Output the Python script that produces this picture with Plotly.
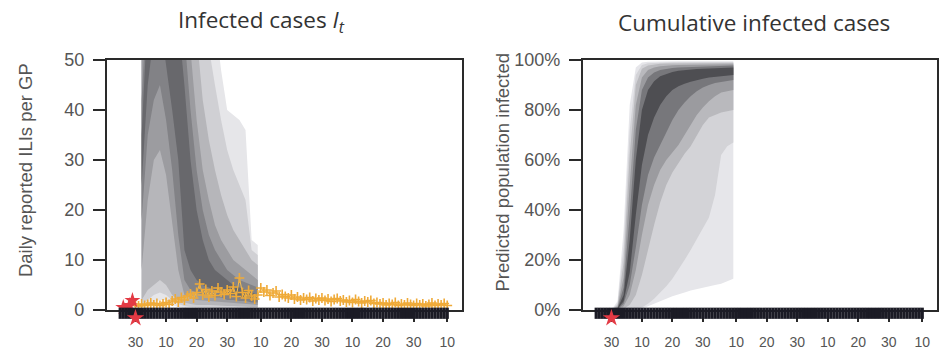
import pandas as pd
import plotly.graph_objects as go

START = pd.Timestamp("2009-04-30")

# ---------------- observed daily ILIs per GP ----------------
pre_days = [-4, -2, -1]            # data before the forecast origin
pre_ili = [0.5, 0.9, 1.9]

obs_ili = [                        # daily from 30 Apr to 10 Aug
    1.0, 0.8, 1.2, 0.9, 1.1, 1.4, 1.0, 1.3, 0.9, 1.2,
    1.5, 1.1, 1.8, 2.2, 1.6, 2.5, 2.0, 2.8, 3.2, 2.4,
    3.5, 5.2, 3.0, 4.1, 2.6, 3.8, 2.9, 4.4, 3.6, 3.1,
    4.0, 3.3, 4.6, 2.7, 6.4, 3.5, 2.4, 3.9, 2.8, 2.2,
    3.0, 4.4, 3.6, 4.0, 2.9, 3.4, 3.8, 2.6, 3.1, 2.7,
    2.4, 3.0, 2.2, 2.6, 2.0, 2.4, 2.1, 2.5, 1.8, 2.3,
    2.0, 2.4, 1.9, 2.2, 1.7, 2.1, 2.3, 1.8, 2.0, 1.6,
    1.9, 1.5, 2.1, 1.7, 1.4, 1.8, 1.6, 1.9, 1.3, 1.5,
    1.2, 1.4, 1.0, 1.3, 1.1, 1.5, 0.9, 1.2, 1.0, 1.4,
    1.1, 0.9, 1.3, 1.0, 1.2, 0.8, 1.1, 1.4, 0.9, 1.2,
    1.0, 1.3, 0.9,
]
rug_first_day = -5                 # reporting days shown as a rug

# ---------------- forecast fan: daily infected cases ----------------
inc_days = [2, 4, 6, 8, 10, 12, 14, 16, 18, 20, 22, 24, 26, 28, 30, 32, 34, 36, 38, 40]
inc_q975 = [90, 150, 180, 190, 190, 180, 170, 150, 120, 95, 75, 65, 58, 48, 40, 39, 38, 36, 14, 13]
inc_q950 = [75, 130, 160, 170, 170, 160, 150, 130, 100, 75, 60, 52, 45, 38, 32, 28, 25, 22, 12, 11]
inc_q900 = [60, 110, 140, 150, 150, 140, 120, 100, 75, 55, 42, 34, 28, 23, 19, 16, 14, 12, 10, 9]
inc_q800 = [50, 90, 120, 130, 125, 110, 90, 70, 52, 38, 28, 22, 17, 14, 12, 10, 9, 8, 7, 6]
inc_q700 = [42, 75, 100, 110, 100, 85, 70, 55, 40, 28, 20, 15, 12, 10, 8, 7, 6, 5.5, 5, 4.5]
inc_q600 = [35, 65, 85, 90, 80, 70, 58, 45, 30, 20, 14, 10, 8, 7, 6, 5, 4.5, 4, 3.5, 3]
inc_q400 = [25, 45, 55, 58, 50, 40, 30, 12, 8, 6, 5, 4.5, 4, 3.5, 3, 3, 2.5, 2.5, 2, 2]
inc_q300 = [18, 35, 42, 45, 38, 28, 15, 6, 4, 3.5, 3, 3, 2.5, 2.5, 2, 2, 1.8, 1.8, 1.5, 1.5]
inc_q200 = [8, 22, 30, 32, 27, 17, 8, 3, 2.5, 2, 2, 1.8, 1.7, 1.6, 1.5, 1.4, 1.3, 1.2, 1.1, 1]
inc_q100 = [2, 4, 5, 6, 5, 3, 2, 1.5, 1.2, 1, 1, 1, 0.9, 0.9, 0.8, 0.8, 0.7, 0.7, 0.6, 0.6]
inc_q050 = [1, 2, 3, 3.5, 3, 2, 1.2, 0.8, 0.6, 0.5, 0.5, 0.5, 0.4, 0.4, 0.4, 0.4, 0.3, 0.3, 0.3, 0.3]
inc_q025 = [0.5, 1, 1.5, 2, 2, 1, 0.6, 0.4, 0.3, 0.3, 0.3, 0.2, 0.2, 0.2, 0.2, 0.2, 0.2, 0.2, 0.2, 0.2]

# ---------------- forecast fan: cumulative infected (%) ----------------
cum_days = [0, 2, 4, 6, 8, 10, 12, 14, 16, 18, 20, 22, 24, 26, 28, 30, 32, 34, 36, 38, 40]
cum_q975 = [0, 3.5, 32, 82, 97, 99, 99.3, 99.4, 99.4, 99.5, 99.5, 99.5, 99.5, 99.5, 99.5, 99.5, 99.5, 99.5, 99.5, 99.5, 99.5]
cum_q950 = [0, 2.5, 25, 72, 94, 98, 98.7, 98.9, 99, 99, 99.1, 99.1, 99.1, 99.1, 99.2, 99.2, 99.2, 99.2, 99.2, 99.2, 99.2]
cum_q900 = [0, 1.8, 19, 62, 90, 96.5, 97.8, 98.2, 98.5, 98.6, 98.6, 98.7, 98.7, 98.7, 98.8, 98.8, 98.8, 98.8, 98.8, 98.8, 98.8]
cum_q800 = [0, 1.2, 13, 50, 82, 93, 96, 97, 97.5, 97.8, 97.9, 98, 98, 98.1, 98.1, 98.2, 98.2, 98.2, 98.3, 98.3, 98.3]
cum_q700 = [0, 0.8, 9, 38, 72, 88, 93, 95, 96, 96.5, 96.8, 97, 97.1, 97.2, 97.3, 97.4, 97.5, 97.6, 97.7, 97.7, 97.8]
cum_q600 = [0, 0.6, 6, 28, 60, 80, 88, 91.5, 93.5, 94.5, 95.2, 95.7, 96, 96.2, 96.4, 96.5, 96.6, 96.7, 96.8, 96.9, 97]
cum_q400 = [0, 0.4, 3.5, 15, 38, 58, 70, 77, 82, 85.5, 88, 89.5, 90.5, 91.3, 92, 92.5, 93, 93.3, 93.6, 93.8, 94]
cum_q300 = [0, 0.3, 2.5, 10, 25, 42, 54, 61, 66, 71, 76, 80, 83, 85.5, 87.5, 89, 90, 90.8, 91.3, 91.7, 92]
cum_q200 = [0, 0.2, 1.5, 6, 16, 30, 42, 50, 56, 60, 63, 66, 70, 74, 78, 81, 83.5, 85.5, 87, 87.5, 88]
cum_q100 = [0, 0.1, 0.5, 2, 6, 14, 24, 34, 43, 50, 55, 59, 62.5, 65.5, 70, 74, 77, 78, 79, 79.5, 80]
cum_q050 = [0, 0, 0.1, 0.3, 0.6, 1, 2.5, 4.5, 7, 9.5, 12.5, 16, 20, 24, 28, 32.5, 37, 46, 62, 65.5, 67]
cum_q025 = [0, 0, 0, 0, 0, 0.5, 1.5, 2.5, 3.5, 4.5, 5.5, 6.3, 7, 7.8, 8.5, 9, 9.5, 10, 10.5, 11.5, 12.5]

# ---------------- axis ticks ----------------
tick_dates = ["2009-04-30", "2009-05-10", "2009-05-20", "2009-05-30", "2009-06-10",
              "2009-06-20", "2009-06-30", "2009-07-10", "2009-07-20", "2009-07-30",
              "2009-08-10"]
tick_text = ["30", "10", "20", "30", "10", "20", "30", "10", "20", "30", "10"]
x_range = ["2009-04-20 16:00", "2009-08-14 20:00"]
inc_ticks = [0, 10, 20, 30, 40, 50]
cum_ticks = [0, 20, 40, 60, 80, 100]
cum_tick_text = ["0%", "20%", "40%", "60%", "80%", "100%"]

# band fills, outermost to innermost
inc_colors = ["#e6e6e9", "#d0d0d4", "#b6b6ba", "#9c9ca0", "#828286", "#68686c"]
cum_colors = ["#e6e6ea", "#d3d3d7", "#b9b9bd", "#9b9b9f", "#77777b", "#4e4e52"]

# plot geometry (paper fractions)
X_LEFT = [0.1138, 0.4915]
X_RIGHT = [0.6202, 0.9968]
Y_MAIN = [0.1168, 0.8291]
Y_STRIP = [0.03, 0.1168]           # thin strip under each x axis for the rug


def to_dates(days):
    return list(START + pd.to_timedelta(days, unit="D"))


def add_fan(fig, days, bands, colors, xa, ya):
    dates = to_dates(days)
    for (lo, hi), col in zip(bands, colors):
        fig.add_trace(go.Scatter(
            x=dates + dates[::-1], y=list(hi) + list(lo)[::-1],
            fill="toself", fillcolor=col, mode="lines",
            line=dict(width=0, color=col), hoverinfo="skip",
            showlegend=False, xaxis=xa, yaxis=ya))


fig = go.Figure()

inc_bands = [(inc_q025, inc_q975), (inc_q050, inc_q950), (inc_q100, inc_q900),
             (inc_q200, inc_q800), (inc_q300, inc_q700), (inc_q400, inc_q600)]
cum_bands = [(cum_q025, cum_q975), (cum_q050, cum_q950), (cum_q100, cum_q900),
             (cum_q200, cum_q800), (cum_q300, cum_q700), (cum_q400, cum_q600)]
add_fan(fig, inc_days, inc_bands, inc_colors, "x", "y")
add_fan(fig, cum_days, cum_bands, cum_colors, "x2", "y2")

# observed data
obs_dates = to_dates(list(range(len(obs_ili))))
fig.add_trace(go.Scatter(
    x=obs_dates, y=obs_ili, mode="lines+markers",
    line=dict(color="#f5bd50", width=1),
    marker=dict(symbol="cross-thin", size=7, color="#efaa38",
                line=dict(width=1.6, color="#efaa38")),
    showlegend=False, xaxis="x", yaxis="y"))
fig.add_trace(go.Scatter(
    x=to_dates(pre_days), y=pre_ili, mode="markers",
    marker=dict(symbol="star", size=12, color="#e33a44", line=dict(width=0)),
    cliponaxis=False, showlegend=False, xaxis="x", yaxis="y"))

# rug of reporting days and forecast-origin star in the strip under each axis
# (strip value 0 = the x axis line; values grow downwards in pixels)
rug_dates = list(pd.date_range(START + pd.Timedelta(days=rug_first_day),
                               START + pd.Timedelta(days=len(obs_ili) - 1), freq="D"))
for xa, ya in [("x", "y3"), ("x2", "y4")]:
    fig.add_trace(go.Scatter(
        x=rug_dates, y=[3.2] * len(rug_dates), mode="markers",
        marker=dict(symbol="line-ns", size=8, color="#1b1b25",
                    line=dict(width=3.2, color="#1b1b25")),
        cliponaxis=False, hoverinfo="skip", showlegend=False, xaxis=xa, yaxis=ya))
    fig.add_trace(go.Scatter(
        x=[START], y=[8], mode="markers",
        marker=dict(symbol="star", size=13, color="#e33a44", line=dict(width=0)),
        cliponaxis=False, showlegend=False, xaxis=xa, yaxis=ya))

axis_line = dict(showline=True, mirror=True, linecolor="#2a2a2a", linewidth=2,
                 showgrid=False, zeroline=False, ticks="outside", tickcolor="#2a2a2a",
                 tickwidth=2, automargin=False)
xcommon = dict(axis_line, type="date", range=x_range, tickvals=tick_dates,
               ticktext=tick_text, ticklen=10, ticklabelstandoff=8,
               tickfont=dict(family="Liberation Sans", size=14, color="#555555"))
ycommon = dict(axis_line, ticklen=12, ticklabelstandoff=5,
               tickfont=dict(family="Liberation Sans", size=18, color="#555555"))
strip = dict(domain=Y_STRIP, range=[30, 0], visible=False, automargin=False,
             showgrid=False, zeroline=False)

fig.update_layout(
    width=940, height=351, margin=dict(l=0, r=0, t=0, b=0, autoexpand=False),
    paper_bgcolor="white", plot_bgcolor="rgba(0,0,0,0)", showlegend=False,
    xaxis=dict(xcommon, domain=X_LEFT, anchor="y"),
    xaxis2=dict(xcommon, domain=X_RIGHT, anchor="y2"),
    yaxis=dict(ycommon, domain=Y_MAIN, anchor="x", range=[0, 50], tickvals=inc_ticks),
    yaxis2=dict(ycommon, domain=Y_MAIN, anchor="x2", range=[0, 100],
                tickvals=cum_ticks, ticktext=cum_tick_text),
    yaxis3=dict(strip, anchor="x"),
    yaxis4=dict(strip, anchor="x2"),
)

title_font = dict(family="Open Sans", size=22.5, color="#333333")
label_font = dict(family="Liberation Sans", size=18.5, color="#555555")
common_ann = dict(xref="paper", yref="paper", showarrow=False,
                  xanchor="center", yanchor="middle")
fig.add_annotation(text="Infected cases <i>I</i><sub><i>t</i></sub>", x=0.2787, y=0.940,
                   font=title_font, **common_ann)
fig.add_annotation(text="Cumulative infected cases", x=0.802, y=0.937,
                   font=title_font, **common_ann)
fig.add_annotation(text="Daily reported ILIs per GP", x=0.0277, y=0.5157, textangle=-90,
                   font=label_font, **common_ann)
fig.add_annotation(text="Predicted population infected", x=0.535, y=0.511, textangle=-90,
                   font=label_font, **common_ann)

fig.write_html("out.html")
